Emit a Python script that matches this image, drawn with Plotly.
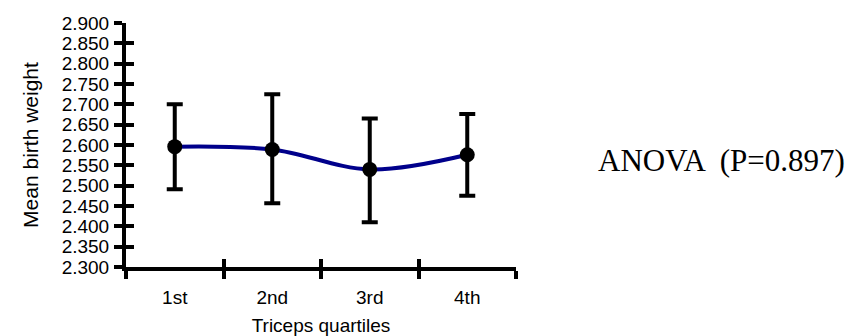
import plotly.graph_objects as go

categories = ["1st", "2nd", "3rd", "4th"]
means = [2.596, 2.589, 2.540, 2.576]
upper = [2.700, 2.725, 2.665, 2.676]
lower = [2.491, 2.457, 2.410, 2.475]
err_plus = [u - m for u, m in zip(upper, means)]
err_minus = [m - l for m, l in zip(means, lower)]

fig = go.Figure()
fig.add_trace(go.Scatter(
    x=categories, y=means, mode="lines",
    line=dict(color="#00008B", width=4, shape="spline", smoothing=1),
    hoverinfo="skip", showlegend=False))
fig.add_trace(go.Scatter(
    x=categories, y=means, mode="markers",
    marker=dict(color="black", size=15),
    error_y=dict(type="data", symmetric=False, array=err_plus, arrayminus=err_minus,
                 color="black", thickness=4, width=8),
    showlegend=False))
# invisible trace for overlay axes (crossing ticks)
fig.add_trace(go.Scatter(x=categories, y=means, xaxis="x2", yaxis="y2",
                         mode="markers", marker=dict(opacity=0), hoverinfo="skip",
                         showlegend=False))

axfont = dict(family="Liberation Sans, Arial", size=19, color="black")
ytitlefont = dict(family="Liberation Sans, Arial", size=21, color="black")
fig.update_layout(
    width=849, height=336,
    margin=dict(l=126, r=333, t=23, b=69, autoexpand=False),
    plot_bgcolor="white", paper_bgcolor="white",
    xaxis=dict(type="category", categoryarray=categories, range=[-0.5, 3.5],
               tickson="boundaries", ticks="outside", ticklen=8, tickwidth=4,
               tickcolor="black", showline=True, linewidth=4, linecolor="black",
               showgrid=False, zeroline=False, tickfont=axfont, ticklabelstandoff=10,
               automargin=False,
               title=dict(text="Triceps quartiles", font=axfont, standoff=14)),
    yaxis=dict(range=[2.3, 2.9], dtick=0.05, tick0=2.3, tickformat=".3f",
               ticks="outside", ticklen=8, tickwidth=4, tickcolor="black",
               showline=True, linewidth=4, linecolor="black", showgrid=False,
               zeroline=False, tickfont=axfont, ticklabelstandoff=1, automargin=False,
               title=dict(text="Mean birth weight", font=ytitlefont, standoff=18)),
    xaxis2=dict(type="category", categoryarray=categories, range=[-0.5, 3.5],
                overlaying="x", side="bottom", tickson="boundaries", ticks="inside",
                ticklen=8, tickwidth=4, tickcolor="black", showticklabels=False,
                showgrid=False, zeroline=False, showline=False, automargin=False),
    yaxis2=dict(range=[2.3, 2.9], dtick=0.05, tick0=2.3, overlaying="y", side="left",
                ticks="inside", ticklen=8, tickwidth=4, tickcolor="black",
                showticklabels=False, showgrid=False, zeroline=False, showline=False,
                automargin=False),
    annotations=[dict(text="ANOVA  (P=0.897)", xref="paper", yref="paper",
                      x=(596 - 126) / 390, y=(267 - 160) / 244, xanchor="left",
                      yanchor="middle", showarrow=False,
                      font=dict(family="Liberation Serif, Times New Roman", size=31,
                                color="black"))],
)
fig.write_html("out.html")
